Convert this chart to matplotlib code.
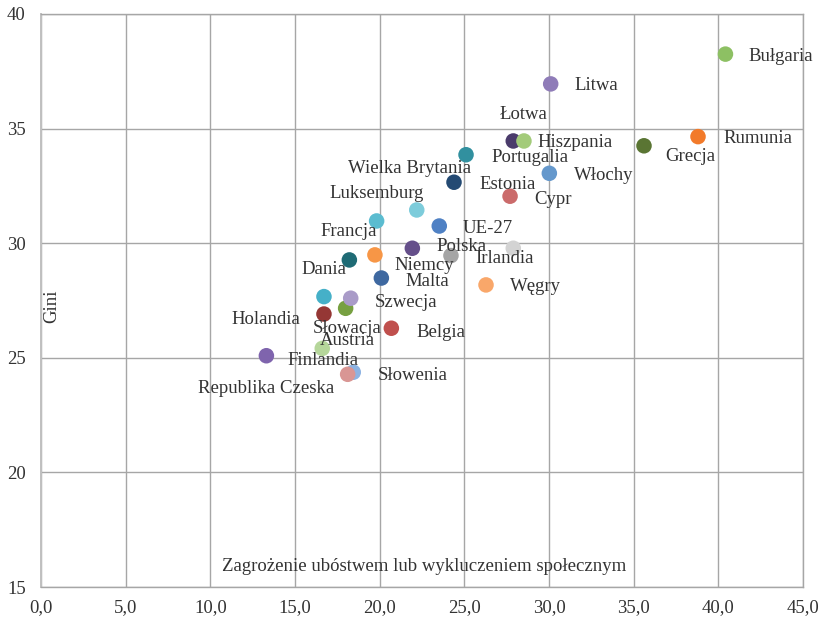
import matplotlib
matplotlib.use("Agg")
import matplotlib.pyplot as plt

plt.rcParams['font.family'] = ['Liberation Serif', 'DejaVu Serif']

# --- data (x: zagrożenie ubóstwem lub wykluczeniem społecznym, y: Gini) ---
names = ["Słowenia", "Republika Czeska", "Bułgaria", "Litwa", "Łotwa", "Hiszpania",
         "Rumunia", "Grecja", "Portugalia", "Włochy", "Estonia", "Cypr",
         "Wielka Brytania", "Luksemburg", "UE-27", "Polska", "Irlandia", "Niemcy",
         "Dania", "Francja", "Malta", "Węgry", "", "Słowacja", "Szwecja",
         "Holandia", "Belgia", "Austria", "Finlandia"]
x_vals = [18.44, 18.11, 40.42, 30.10, 27.89, 28.52,
          38.80, 35.61, 25.10, 30.02, 24.39, 27.70,
          22.19, 19.82, 23.52, 21.93, 24.21, 27.89,
          18.21, 19.72, 20.10, 26.28, 16.71, 17.99, 18.29,
          16.71, 20.69, 16.61, 13.31]
y_vals = [24.37, 24.28, 38.25, 36.95, 34.46, 34.46,
          34.65, 34.25, 33.86, 33.05, 32.66, 32.05,
          31.45, 30.97, 30.75, 29.78, 29.46, 29.78,
          29.27, 29.49, 28.48, 28.18, 27.67, 27.16, 27.60,
          26.91, 26.29, 25.41, 25.09]
colors = ["#8DB3E2", "#D99694", "#8DC063", "#8F7CB8", "#4A3B6B", "#A3CB7A",
          "#F27A2A", "#5A7533", "#31909F", "#6598CC", "#244A73", "#CB6B6B",
          "#7DCCDB", "#5BBCD0", "#4F81C4", "#654F8A", "#A5A5A5", "#D3D3D3",
          "#1F6B75", "#F79646", "#3E68A0", "#F9A76A", "#45B0C8", "#77A041", "#A99BC8",
          "#953735", "#C0504D", "#B5D69A", "#7F64AD"]

x_ticks = [0, 5, 10, 15, 20, 25, 30, 35, 40, 45]
x_ticklabels = ["0,0", "5,0", "10,0", "15,0", "20,0", "25,0", "30,0", "35,0", "40,0", "45,0"]
y_ticks = [15, 20, 25, 30, 35, 40]
x_title = "Zagrożenie ubóstwem lub wykluczeniem społecznym"
y_title = "Gini"

# label placement (offset in pixels, horizontal alignment)
label_pos = {
    "Bułgaria": (23, 0, 'left'), "Litwa": (24, 0, 'left'), "Łotwa": (10, 28, 'center'),
    "Hiszpania": (14, 0, 'left'), "Rumunia": (25, 0, 'left'), "Grecja": (21, -9, 'left'),
    "Portugalia": (25, -1, 'left'), "Włochy": (25, 0, 'left'), "Estonia": (25, 0, 'left'),
    "Cypr": (24, -1, 'left'), "Wielka Brytania": (-7, 43, 'center'),
    "Luksemburg": (0, 29, 'center'), "UE-27": (23, 0, 'left'), "Polska": (24, 4, 'left'),
    "Irlandia": (24, -1, 'left'), "Niemcy": (-89, -15, 'center'), "Dania": (-25, -8, 'center'),
    "Francja": (-26, 25, 'center'), "Malta": (24, -1, 'left'), "Węgry": (24, 0, 'left'),
    "Słowacja": (2, -18, 'center'), "Szwecja": (24, -2, 'left'), "Holandia": (-24, -3, 'right'),
    "Belgia": (25, -2, 'left'), "Austria": (25, 10, 'center'), "Finlandia": (21, -3, 'left'),
    "Słowenia": (24, -1, 'left'), "Republika Czeska": (-13, -12, 'right'),
}
text_color = '#333333'

fig = plt.figure(figsize=(8.22, 6.21), dpi=100)
ax = fig.add_axes([41/822, 1 - 587/621, 762/822, 573/621])

ax.set_xlim(0, 45)
ax.set_ylim(15, 40)
ax.set_xticks(x_ticks)
ax.set_xticklabels(x_ticklabels)
ax.set_yticks(y_ticks)
ax.tick_params(axis='both', length=0, labelsize=13.5, colors=text_color)
ax.tick_params(axis='x', pad=9)
ax.tick_params(axis='y', pad=11)
ax.grid(True, color='#A6A6A6', linewidth=1.0)
ax.set_axisbelow(True)
for s in ax.spines.values():
    s.set_color('#A6A6A6')
    s.set_linewidth(1.0)
ax.spines['left'].set_color('#C0C0C0')
ax.spines['left'].set_linewidth(1.4)

# draw back to front (list order)
order = list(range(len(names)))
order = order[2:] + order[:2]
for i in order:
    ax.scatter(x_vals[i], y_vals[i], s=125, color=colors[i], edgecolors='none', zorder=3)

for i, n in enumerate(names):
    if not n:
        continue
    dx, dy, ha = label_pos[n]
    ax.annotate(n, (x_vals[i], y_vals[i]), xytext=(dx, dy - 2), textcoords='offset pixels',
                ha=ha, va='center', fontsize=13.5, color=text_color, zorder=4)

ax.text(0.5025, 0.036, x_title, transform=ax.transAxes, ha='center', va='center',
        fontsize=13.5, color=text_color)
ax.text(0.0144, 0.49, y_title, transform=ax.transAxes, ha='center', va='center',
        rotation=90, fontsize=13.5, color=text_color)

fig.savefig("out.png", dpi=100)
